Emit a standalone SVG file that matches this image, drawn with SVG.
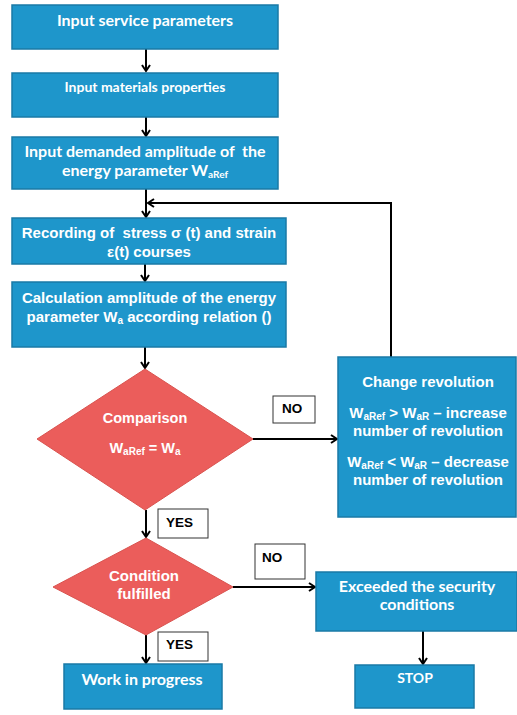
<svg xmlns="http://www.w3.org/2000/svg" width="517" height="715" viewBox="0 0 517 715">
<style>
.box{fill:#1e96cb;stroke:#1a7aa6;stroke-width:1.5}
.dia{fill:#eb5d5b;stroke:#d9534f;stroke-width:1}
text{white-space:pre}
.t{fill:#fff;font-family:"Liberation Sans",Arial,sans-serif;font-weight:bold;font-size:15px;text-anchor:middle}
.c{fill:#fff;font-family:Lato,"Open Sans",sans-serif;font-weight:bold;font-size:16px;text-anchor:middle}
.lab{fill:#fff;stroke:#333;stroke-width:1}
.lt{fill:#000;font-family:"Liberation Sans",Arial,sans-serif;font-weight:bold;font-size:13.5px}
.ln{fill:none;stroke:#000;stroke-width:2}
.s{font-size:10px}
</style>
<defs>
<marker id="ah" markerWidth="10" markerHeight="10" refX="8" refY="5" orient="auto" markerUnits="userSpaceOnUse">
<path d="M2,1 L8,5 L2,9" fill="none" stroke="#000" stroke-width="2"/>
</marker>
</defs>
<g id="connectors">
<line class="ln" x1="146" y1="49" x2="146" y2="71" marker-end="url(#ah)"/>
<line class="ln" x1="146" y1="117" x2="146" y2="136" marker-end="url(#ah)"/>
<line class="ln" x1="146" y1="189" x2="146" y2="217" marker-end="url(#ah)"/>
<polyline class="ln" points="391,357 391,203 148,203" marker-end="url(#ah)"/>
<line class="ln" x1="145" y1="264" x2="145" y2="281" marker-end="url(#ah)"/>
<line class="ln" x1="145" y1="347" x2="145" y2="368" marker-end="url(#ah)"/>
<line class="ln" x1="253" y1="439" x2="337" y2="439" marker-end="url(#ah)"/>
<line class="ln" x1="146" y1="510" x2="146" y2="537" marker-end="url(#ah)"/>
<line class="ln" x1="233" y1="587" x2="315" y2="587" marker-end="url(#ah)"/>
<line class="ln" x1="146" y1="635" x2="146" y2="663" marker-end="url(#ah)"/>
<line class="ln" x1="423" y1="631" x2="423" y2="664" marker-end="url(#ah)"/>
</g>
<g id="n1"><rect class="box" x="12" y="5" width="266" height="44"/><text class="c" x="145" y="26">Input service parameters</text></g>
<g id="n2"><rect class="box" x="12" y="73" width="266" height="44"/><text class="c" x="145" y="92" style="font-size:14px">Input materials properties</text></g>
<g id="n3"><rect class="box" x="12" y="137" width="266" height="52"/><text class="c" x="145" y="157">Input demanded amplitude of  the</text><text class="c" x="145" y="176">energy parameter W<tspan class="s" dy="2">aRef</tspan></text></g>
<g id="n4"><rect class="box" x="12" y="218" width="274" height="46"/><text class="t" x="149" y="238">Recording of  stress σ (t) and strain</text><text class="t" x="149" y="257">ε(t) courses</text></g>
<g id="n5"><rect class="box" x="12" y="282" width="274" height="65"/><text class="t" x="149" y="303">Calculation amplitude of the energy</text><text class="t" x="149" y="322">parameter W<tspan class="s" dy="2">a</tspan><tspan dy="-2"> according relation ()</tspan></text></g>
<g id="d1"><polygon class="dia" points="145,369 253,439 145,510 37,439"/><text class="t" x="145" y="423" style="font-size:14.5px">Comparison</text><text class="t" x="145" y="453" style="font-size:14.5px">W<tspan class="s" dy="2">aRef</tspan><tspan dy="-2"> = W</tspan><tspan class="s" dy="2">a</tspan></text></g>
<g id="n6"><rect class="box" x="338" y="357" width="178" height="160"/><text class="t" x="428" y="387">Change revolution</text><text class="t" x="428" y="418">W<tspan class="s" dy="2">aRef</tspan><tspan dy="-2"> &gt; W</tspan><tspan class="s" dy="2">aR</tspan><tspan dy="-2"> – increase</tspan></text><text class="t" x="428" y="436">number of revolution</text><text class="t" x="428" y="467">W<tspan class="s" dy="2">aRef</tspan><tspan dy="-2"> &lt; W</tspan><tspan class="s" dy="2">aR</tspan><tspan dy="-2"> – decrease</tspan></text><text class="t" x="428" y="485">number of revolution</text></g>
<g id="l1"><rect class="lab" x="273" y="396" width="42" height="27"/><text class="lt" x="282" y="413">NO</text></g>
<g id="l2"><rect class="lab" x="158" y="509" width="50" height="29"/><text class="lt" x="166" y="527">YES</text></g>
<g id="d2"><polygon class="dia" points="146,538 233,587 146,635 53,587"/><text class="t" x="144" y="581">Condition</text><text class="t" x="144" y="599">fulfilled</text></g>
<g id="l3"><rect class="lab" x="255" y="544" width="50" height="35"/><text class="lt" x="262" y="562">NO</text></g>
<g id="l4"><rect class="lab" x="158" y="632" width="50" height="29"/><text class="lt" x="166" y="649">YES</text></g>
<g id="n7"><rect class="box" x="64" y="664" width="158" height="45"/><text class="c" x="142" y="685">Work in progress</text></g>
<g id="n8"><rect class="box" x="316" y="572" width="201" height="59"/><text class="c" x="417" y="592">Exceeded the security</text><text class="c" x="417" y="610">conditions</text></g>
<g id="n9"><rect class="box" x="355" y="665" width="119" height="43"/><text class="c" x="415" y="683" style="font-size:14px">STOP</text></g>
</svg>
